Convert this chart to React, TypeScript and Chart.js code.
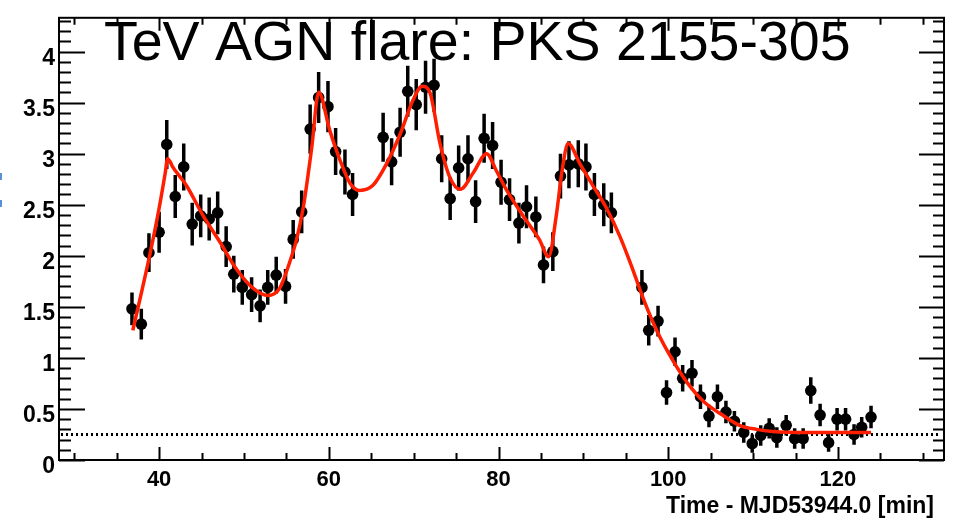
import { useEffect, useRef } from "react";
import { Chart, registerables } from "chart.js";

Chart.register(...registerables);

const FONT = '"Liberation Sans", Arial, Helvetica, sans-serif';

// Measured flux points (time in minutes after MJD 53944.0)
const times = [
  36.8, 37.9, 38.8, 40.0, 40.9, 41.9, 42.9, 43.9, 44.9, 45.9, 46.9, 47.9, 48.8, 49.8,
  50.9, 51.9, 52.8, 53.8, 54.9, 55.8, 56.8, 57.8, 58.8, 59.9, 60.8, 61.9, 62.8,
  66.4, 67.4, 68.4, 69.3, 70.3, 71.4, 72.4, 73.3, 74.3, 75.3, 76.4, 77.3, 78.3, 79.3,
  80.3, 81.3, 82.4, 83.3, 84.4, 85.3, 86.4, 87.3, 88.3, 89.4, 90.3, 91.3, 92.4, 93.3,
  96.9, 97.7, 98.8, 99.8, 100.8, 101.7, 102.8, 103.8, 104.8, 105.8, 106.8, 107.8,
  108.9, 109.9, 110.9, 111.9, 112.8, 113.9, 114.9, 115.9, 116.8, 117.9, 118.9, 119.9,
  120.9, 121.9, 122.8, 123.9,
];

const rates = [
  1.48, 1.33, 2.03, 2.23, 3.09, 2.58, 2.87, 2.31, 2.39, 2.36, 2.42, 2.09, 1.82, 1.69,
  1.62, 1.51, 1.69, 1.81, 1.7, 2.16, 2.43, 3.24, 3.55, 3.46, 3.02, 2.82, 2.6,
  3.16, 2.92, 3.21, 3.61, 3.48, 3.65, 3.67, 2.95, 2.56, 2.86, 2.95, 2.53, 3.15, 3.08,
  2.72, 2.55, 2.32, 2.48, 2.38, 1.91, 2.04, 2.78, 2.89, 2.9, 2.87, 2.6, 2.5, 2.42,
  1.69, 1.27, 1.36, 0.66, 1.06, 0.8, 0.85, 0.62, 0.43, 0.62, 0.47, 0.38,
  0.27, 0.16, 0.24, 0.31, 0.22, 0.34, 0.21, 0.21, 0.68, 0.44, 0.17, 0.4,
  0.4, 0.25, 0.32, 0.42,
];

const rateErrors = [
  0.16, 0.15, 0.19, 0.2, 0.24, 0.21, 0.23, 0.21, 0.21, 0.21, 0.21, 0.2, 0.18, 0.17,
  0.17, 0.16, 0.17, 0.18, 0.17, 0.19, 0.21, 0.24, 0.25, 0.25, 0.23, 0.22, 0.21,
  0.24, 0.23, 0.24, 0.25, 0.25, 0.26, 0.26, 0.23, 0.21, 0.22, 0.23, 0.21, 0.24, 0.23,
  0.22, 0.21, 0.2, 0.21, 0.2, 0.18, 0.19, 0.22, 0.23, 0.23, 0.23, 0.21, 0.21, 0.2,
  0.17, 0.15, 0.15, 0.12, 0.14, 0.13, 0.13, 0.12, 0.11, 0.12, 0.11, 0.1,
  0.1, 0.09, 0.1, 0.1, 0.1, 0.1, 0.1, 0.1, 0.13, 0.11, 0.09, 0.11,
  0.11, 0.1, 0.1, 0.11,
];

// Multi-flare fit curve
const fitTimes = [
  36.9, 38.8, 39.9, 40.7, 41.0, 41.3, 41.6, 42.4, 43.2, 45.2, 47.2, 49.1, 51.1, 52.8,
  54.2, 55.4, 56.2, 57.0, 58.0, 58.8, 60.1, 61.3, 62.5, 63.6, 65.2, 66.8, 68.4, 69.9,
  71.0, 71.9, 73.1, 74.2, 75.5, 77.0, 78.6, 79.7, 80.9, 82.9, 84.8, 85.9, 86.8, 87.5,
  88.2, 89.6, 91.1, 92.7, 94.3, 95.8, 97.2, 98.8, 100.5, 102.3, 104.2, 106.4, 108.4,
  110.4, 112.3, 116.3, 123.9,
];

const fitRates = [
  1.27, 1.97, 2.42, 2.8, 2.95, 2.92, 2.87, 2.78, 2.69, 2.39, 2.13, 1.87, 1.68, 1.61,
  1.68, 1.94, 2.16, 2.48, 3.07, 3.6, 3.23, 2.94, 2.71, 2.64, 2.69, 2.9, 3.19, 3.52,
  3.66, 3.6, 3.1, 2.78, 2.65, 2.81, 3.0, 2.84, 2.65, 2.39, 2.16, 1.99, 2.39, 2.84,
  3.1, 2.9, 2.69, 2.47, 2.19, 1.87, 1.55, 1.24, 0.98, 0.75, 0.57, 0.44, 0.34,
  0.3, 0.28, 0.27, 0.27,
];

const baselineLevel = 0.25;

const xTickLabels = [40, 60, 80, 100, 120];
const yTickLabels = [0, 0.5, 1, 1.5, 2, 2.5, 3, 3.5, 4];

const X_MIN = 28.2;
const X_MAX = 132.5;
const Y_MIN = 0;
const Y_MAX = 4.33;

const titleText = "TeV AGN flare: PKS 2155-305";
const xAxisTitle = "Time - MJD53944.0 [min]";

const framePlugin = {
  id: "frame",
  beforeDatasetsDraw(chart: any) {
    const { ctx, chartArea: a, scales } = chart;
    const xs = scales.x;
    const ys = scales.y;
    ctx.save();
    // dotted baseline
    const yb = ys.getPixelForValue(baselineLevel);
    ctx.strokeStyle = "#000";
    ctx.lineWidth = 3;
    ctx.setLineDash([2, 3]);
    ctx.beginPath();
    ctx.moveTo(a.left + 2, yb);
    ctx.lineTo(a.right - 4, yb);
    ctx.stroke();
    ctx.setLineDash([]);
    // vertical error bars
    ctx.lineWidth = 3.5;
    ctx.beginPath();
    for (let i = 0; i < times.length; i++) {
      const px = xs.getPixelForValue(times[i]);
      ctx.moveTo(px, ys.getPixelForValue(rates[i] - rateErrors[i]));
      ctx.lineTo(px, ys.getPixelForValue(rates[i] + rateErrors[i]));
    }
    ctx.stroke();
    ctx.restore();
  },
  afterDraw(chart: any) {
    const { ctx, chartArea: a, scales } = chart;
    const xs = scales.x;
    const ys = scales.y;
    ctx.save();
    ctx.strokeStyle = "#000";
    ctx.lineWidth = 2;
    ctx.strokeRect(a.left, a.top, a.right - a.left, a.bottom - a.top);

    ctx.beginPath();
    // x ticks (bottom and top), minor every 5
    for (let v = 30; v <= 130; v += 5) {
      const px = Math.round(xs.getPixelForValue(v)) + 0.5;
      const major = v % 20 === 0;
      const len = major ? 13 : 7;
      ctx.moveTo(px, a.bottom);
      ctx.lineTo(px, a.bottom - len);
      ctx.moveTo(px, a.top);
      ctx.lineTo(px, a.top + len);
    }
    // y ticks (left and right), minor every 0.1
    for (let k = 0; k <= 43; k++) {
      const v = k / 10;
      const py = Math.round(ys.getPixelForValue(v)) + 0.5;
      const major = k % 5 === 0;
      ctx.moveTo(a.left, py);
      ctx.lineTo(a.left + (major ? 26 : 12), py);
      ctx.moveTo(a.right, py);
      ctx.lineTo(a.right - (major ? 25 : 11), py);
    }
    ctx.stroke();

    // title over the frame
    ctx.fillStyle = "#000";
    ctx.font = `55.5px ${FONT}`;
    ctx.textAlign = "left";
    ctx.textBaseline = "alphabetic";
    ctx.fillText(titleText, 104, 60);

    // x axis title, right aligned
    ctx.font = `bold 23px ${FONT}`;
    ctx.textAlign = "right";
    ctx.fillText(xAxisTitle, 934, 513);

    // small blue marks at the left edge
    ctx.fillStyle = "#5b8fd6";
    ctx.fillRect(0, 173, 2, 7);
    ctx.fillRect(0, 200, 2, 7);
    ctx.restore();
  },
};

export default function App() {
  const canvasRef = useRef<HTMLCanvasElement | null>(null);

  useEffect(() => {
    const canvas = canvasRef.current;
    if (!canvas) return;
    const chart = new Chart(canvas, {
      type: "line",
      data: {
        datasets: [
          {
            label: "fit",
            data: fitTimes.map((t, i) => ({ x: t, y: fitRates[i] })),
            borderColor: "rgb(255, 30, 0)",
            borderWidth: 3.5,
            pointRadius: 0,
            fill: false,
            cubicInterpolationMode: "monotone",
            order: 0,
          },
          {
            label: "flux",
            data: times.map((t, i) => ({ x: t, y: rates[i] })),
            showLine: false,
            pointRadius: 5.8,
            pointBackgroundColor: "#000",
            pointBorderWidth: 0,
            borderColor: "#000",
            order: 1,
          },
        ],
      },
      options: {
        responsive: false,
        animation: false,
        devicePixelRatio: 1,
        layout: { padding: { top: 13, right: 9, left: 0, bottom: 0 } },
        plugins: {
          legend: { display: false },
          title: { display: false },
          tooltip: { enabled: false },
        },
        scales: {
          x: {
            type: "linear",
            min: X_MIN,
            max: X_MAX,
            grid: { display: false, drawTicks: false },
            border: { display: false },
            ticks: {
              color: "#000",
              font: { family: FONT, size: 22, weight: "bold" },
              padding: 7,
              maxRotation: 0,
              autoSkip: false,
              callback: (v: any) => String(v),
            },
            afterBuildTicks: (s: any) => {
              s.ticks = xTickLabels.map((v) => ({ value: v }));
            },
            afterFit: (s: any) => {
              s.height = 60;
            },
          },
          y: {
            type: "linear",
            min: Y_MIN,
            max: Y_MAX,
            grid: { display: false, drawTicks: false },
            border: { display: false },
            ticks: {
              color: "#000",
              font: { family: FONT, size: 23, weight: "bold" },
              padding: 4,
              labelOffset: 7,
              autoSkip: false,
              callback: (v: any) => String(v),
            },
            afterBuildTicks: (s: any) => {
              s.ticks = yTickLabels.map((v) => ({ value: v }));
            },
            afterFit: (s: any) => {
              s.width = 59;
            },
          },
        },
      },
      plugins: [framePlugin],
    });
    return () => chart.destroy();
  }, []);

  return (
    <div style={{ position: "fixed", left: 0, top: 0, width: 953, height: 520, background: "#fff" }}>
      <canvas ref={canvasRef} width={953} height={520} style={{ display: "block" }} />
    </div>
  );
}
